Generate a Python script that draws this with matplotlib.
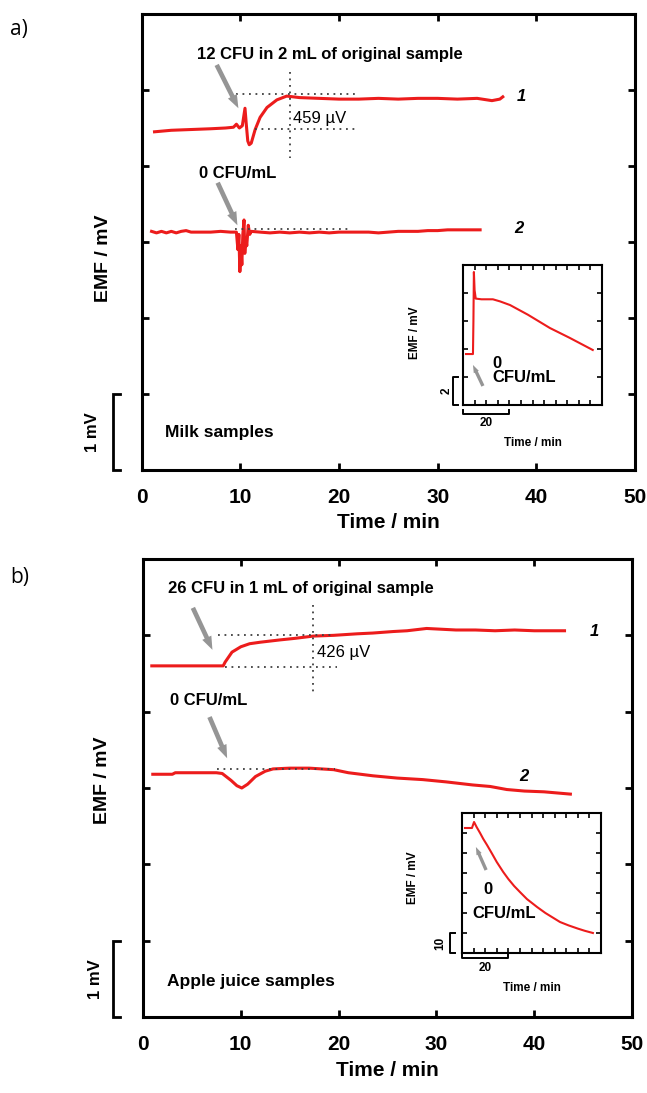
import matplotlib
matplotlib.use('Agg')
import matplotlib.pyplot as plt
from matplotlib.transforms import blended_transform_factory as btf

plt.rcParams['font.family'] = ['Liberation Sans', 'DejaVu Sans']

RED = '#ec1c1c'
GREY = '#959595'
DOT = '#404040'

# ---------------- data (time / min, EMF / mV offset) ----------------
xticks_main = [0, 10, 20, 30, 40, 50]
xticklabels_main = ['0', '10', '20', '30', '40', '50']

# panel a, trace 1 (12 CFU in 2 mL)
a1_t = [1.3, 3, 5, 7, 8.5, 9.3, 9.6, 9.9, 10.2, 10.47, 10.6, 10.75, 10.9, 11.1, 11.5, 12.0,
        12.7, 13.7, 14.7, 16, 18, 20, 22, 24, 26, 28, 30, 32, 34, 35.5, 36.3, 36.6]
a1_v = [4.45, 4.47, 4.48, 4.49, 4.50, 4.51, 4.55, 4.50, 4.53, 4.76, 4.55, 4.33, 4.28, 4.30, 4.48,
        4.64, 4.77, 4.87, 4.92, 4.90, 4.89, 4.88, 4.88, 4.89, 4.88, 4.89, 4.89, 4.88, 4.89, 4.86, 4.88, 4.91]
# panel a, trace 2 (0 CFU/mL)
a2_t = [1.0, 1.5, 2.0, 2.5, 3.0, 3.5, 4.0, 4.5, 5.0, 6.0, 7.0, 8.0, 9.0, 9.6, 9.75, 9.85, 9.95, 10.05,
        10.15, 10.25, 10.37, 10.45, 10.55, 10.65, 10.8, 10.95, 11.1, 12, 13, 14, 15, 16, 17, 18, 19,
        20, 21, 22, 23, 24, 25, 26, 27, 28, 29, 30, 31, 32, 33, 34.3]
a2_v = [3.14, 3.12, 3.14, 3.12, 3.14, 3.12, 3.14, 3.15, 3.13, 3.13, 3.13, 3.14, 3.13, 3.13, 2.90, 3.10,
        2.61, 2.95, 2.70, 3.10, 3.29, 2.85, 3.05, 2.95, 3.22, 3.10, 3.14, 3.13, 3.12, 3.13, 3.12, 3.13,
        3.12, 3.13, 3.12, 3.13, 3.13, 3.13, 3.13, 3.12, 3.13, 3.14, 3.14, 3.14, 3.15, 3.15, 3.16, 3.16,
        3.16, 3.16]
# panel b, trace 1 (26 CFU in 1 mL)
b1_t = [0.9, 8.2, 8.4, 9.1, 10.0, 10.9, 12.0, 14.0, 15.5, 17.4, 19.5, 21.9, 23.5, 25.6, 27.0, 29.0,
        30.5, 32.0, 34.0, 36.0, 38.0, 40.0, 42.0, 43.1]
b1_v = [4.60, 4.60, 4.65, 4.78, 4.85, 4.89, 4.91, 4.94, 4.96, 4.99, 5.00, 5.02, 5.03, 5.05, 5.06, 5.09,
        5.08, 5.07, 5.07, 5.06, 5.07, 5.06, 5.06, 5.06]
# panel b, trace 2 (0 CFU/mL)
b2_t = [1.0, 3.0, 3.3, 7.5, 8.1, 9.0, 9.6, 10.1, 10.7, 11.5, 12.5, 13.3, 15.0, 17.0, 19.5, 21.0,
        23.5, 26.0, 28.6, 31.0, 33.7, 35.5, 37.2, 39.0, 41.0, 43.7]
b2_v = [3.18, 3.18, 3.20, 3.20, 3.19, 3.10, 3.03, 3.00, 3.05, 3.15, 3.22, 3.25, 3.26, 3.26, 3.24, 3.20,
        3.16, 3.13, 3.11, 3.08, 3.04, 3.02, 2.98, 2.96, 2.95, 2.92]

# insets (time / min, EMF / mV)
ia_t = [1.3, 4.3, 4.5, 4.7, 5.0, 5.5, 8.0, 12.9, 16.0, 20.3, 28.0, 37.5, 46.0, 56.0]
ia_v = [3.64, 3.64, 6.0, 9.5, 8.2, 7.6, 7.55, 7.55, 7.4, 7.14, 6.45, 5.5, 4.8, 3.93]
ib_t = [1.3, 4.3, 5.2, 6.3, 7.8, 9.2, 10.8, 12.8, 15.0, 17.8, 20.0, 22.5, 25.0, 28.0, 32.4,
        36.0, 42.3, 46.0, 50.0, 53.0, 56.5]
ib_v = [62.5, 62.5, 65.5, 63.0, 60.0, 57.0, 54.0, 50.0, 45.5, 40.5, 37.0, 33.5, 30.5, 27.0, 23.0,
        20.0, 15.5, 13.8, 12.2, 11.1, 10.0]

# ---------------- figure ----------------
fig = plt.figure(figsize=(6.47, 10.93), dpi=100)
W, H = 647.0, 1093.0


def px_axes(l, t, r, b):
    return fig.add_axes([l / W, 1 - b / H, (r - l) / W, (b - t) / H])


axa = px_axes(141.7, 14, 635, 470)
axb = px_axes(143, 559, 632, 1017)


def style_main(ax):
    ax.set_xlim(0, 50)
    ax.set_ylim(0, 6)
    ax.set_xticks(xticks_main)
    ax.set_xticklabels(xticklabels_main, fontsize=15, fontweight='bold')
    ax.set_yticks([1, 2, 3, 4, 5])
    ax.set_yticklabels([])
    ax.tick_params(direction='in', length=5, width=2, top=True, right=True, pad=13)
    for s in ax.spines.values():
        s.set_linewidth(2.2)
    ax.text(0.5, -0.116, 'Time / min', transform=ax.transAxes, ha='center', va='center',
            fontsize=15, fontweight='bold')


def scale_bar(ax, xb, xs, xt, ylab):
    tr = btf(ax.transAxes, ax.transData)
    ax.plot([xs, xb, xb, xs], [0, 0, 1, 1], color='black', lw=2.0, transform=tr, clip_on=False,
            solid_joinstyle='miter')
    ax.text(xt, 0.5, '1 mV', transform=tr, rotation=90, ha='center', va='center',
            fontsize=12, fontweight='bold')


def arrow(ax, tail, head, ms=12, hw=0.6, hl=0.8, tw=0.28):
    ax.annotate('', xy=head, xytext=tail,
                arrowprops=dict(arrowstyle='simple,head_length=%g,head_width=%g,tail_width=%g' % (hl, hw, tw),
                                color=GREY, mutation_scale=ms, shrinkA=0, shrinkB=0, lw=0))


def dotted(ax, xs, ys):
    ax.plot(xs, ys, color=DOT, lw=1.3, linestyle=(0, (1, 2.6)))


# ---- panel a ----
style_main(axa)
axa.plot(a1_t, a1_v, color=RED, lw=2.2)
axa.plot(a2_t, a2_v, color=RED, lw=2.2)
dotted(axa, [9.6, 21.6], [4.95, 4.95])
dotted(axa, [11.5, 21.6], [4.49, 4.49])
dotted(axa, [15.0, 15.0], [5.24, 4.10])
dotted(axa, [9.5, 21.0], [3.17, 3.17])
axa.text(15.3, 4.63, '459 µV', fontsize=12, ha='left', va='center')
axa.text(5.6, 5.47, '12 CFU in 2 mL of original sample', fontsize=12, fontweight='bold',
         ha='left', va='center')
arrow(axa, (7.6, 5.33), (9.8, 4.76))
axa.text(38.0, 4.91, '1', fontsize=12, fontweight='bold', style='italic', ha='left', va='center')
axa.text(5.8, 3.90, '0 CFU/mL', fontsize=12, fontweight='bold', ha='left', va='center')
arrow(axa, (7.7, 3.78), (9.7, 3.22))
axa.text(37.8, 3.18, '2', fontsize=12, fontweight='bold', style='italic', ha='left', va='center')
axa.text(2.4, 0.49, 'Milk samples', fontsize=12.5, fontweight='bold', ha='left', va='center')
axa.text(-0.078, 0.465, 'EMF / mV', transform=axa.transAxes, rotation=90, ha='center',
         va='center', fontsize=14, fontweight='bold')
scale_bar(axa, -0.058, -0.045, -0.099, '1 mV')

# ---- panel b ----
style_main(axb)
axb.plot(b1_t, b1_v, color=RED, lw=2.2)
axb.plot(b2_t, b2_v, color=RED, lw=2.2)
dotted(axb, [7.7, 19.3], [5.01, 5.01])
dotted(axb, [8.4, 19.8], [4.59, 4.59])
dotted(axb, [17.4, 17.4], [5.40, 4.25])
dotted(axb, [7.6, 19.6], [3.25, 3.25])
axb.text(17.8, 4.77, '426 µV', fontsize=12, ha='left', va='center')
axb.text(2.6, 5.62, '26 CFU in 1 mL of original sample', fontsize=12, fontweight='bold',
         ha='left', va='center')
arrow(axb, (5.1, 5.36), (7.1, 4.81))
axb.text(45.7, 5.05, '1', fontsize=12, fontweight='bold', style='italic', ha='left', va='center')
axb.text(2.8, 4.15, '0 CFU/mL', fontsize=12, fontweight='bold', ha='left', va='center')
arrow(axb, (6.8, 3.93), (8.6, 3.39))
axb.text(38.5, 3.15, '2', fontsize=12, fontweight='bold', style='italic', ha='left', va='center')
axb.text(2.5, 0.46, 'Apple juice samples', fontsize=12.5, fontweight='bold', ha='left', va='center')
axb.text(-0.082, 0.517, 'EMF / mV', transform=axb.transAxes, rotation=90, ha='center',
         va='center', fontsize=14, fontweight='bold')
scale_bar(axb, -0.061, -0.048, -0.098, '1 mV')

# ---- insets ----
insa = px_axes(463, 265, 602, 405)
insb = px_axes(462, 813, 601, 953)


def style_inset(ax, ymax, ystep, ybar, ylabtxt, ylab_x, ybar_x, ytxt_x, xlab_y, x20_y, x20_txt_y, emf_y):
    ax.set_xlim(0, 60)
    ax.set_ylim(0, ymax)
    ax.set_xticks(range(0, 61, 5))
    ax.set_yticks(range(0, ymax + 1, ystep))
    ax.set_xticklabels([])
    ax.set_yticklabels([])
    ax.tick_params(direction='in', length=3.5, width=1.2, top=True, right=True)
    for s in ax.spines.values():
        s.set_linewidth(1.5)
    # vertical scale bar
    tr = btf(ax.transAxes, ax.transData)
    ax.plot([ybar_x + 0.035, ybar_x, ybar_x, ybar_x + 0.035], [0, 0, ybar, ybar], color='black',
            lw=1.4, transform=tr, clip_on=False)
    ax.text(ytxt_x, ybar / 2, ylabtxt, transform=tr, rotation=90, ha='center', va='center',
            fontsize=8.5, fontweight='bold')
    # horizontal scale bar
    tr2 = btf(ax.transData, ax.transAxes)
    ax.plot([0, 0, 20, 20], [x20_y + 0.03, x20_y, x20_y, x20_y + 0.03], color='black', lw=1.4,
            transform=tr2, clip_on=False)
    ax.text(10, x20_txt_y, '20', transform=tr2, ha='center', va='center', fontsize=8.5,
            fontweight='bold')
    ax.text(0.5, xlab_y, 'Time / min', transform=ax.transAxes, ha='center', va='center',
            fontsize=8.5, fontweight='bold')
    ax.text(ylab_x, emf_y, 'EMF / mV', transform=ax.transAxes, rotation=90, ha='center',
            va='center', fontsize=8.5, fontweight='bold')


style_inset(insa, 10, 2, 2, '2', -0.345, -0.072, -0.115, -0.27, -0.064, -0.13, 0.52)
insa.plot(ia_t, ia_v, color=RED, lw=1.5)
insa.text(12.5, 3.0, '0', fontsize=12, fontweight='bold', ha='left', va='center')
insa.text(12.5, 1.93, 'CFU/mL', fontsize=12, fontweight='bold', ha='left', va='center')
arrow(insa, (8.6, 1.36), (4.3, 2.86), ms=8, hw=0.5, hl=0.7, tw=0.3)

style_inset(insb, 70, 10, 10, '10', -0.35, -0.086, -0.158, -0.25, -0.036, -0.107, 0.535)
insb.plot(ib_t, ib_v, color=RED, lw=1.5)
insb.text(9.1, 31.5, '0', fontsize=12, fontweight='bold', ha='left', va='center')
insb.text(4.3, 20.0, 'CFU/mL', fontsize=12, fontweight='bold', ha='left', va='center')
arrow(insb, (10.4, 41.5), (6.0, 53.0), ms=8, hw=0.5, hl=0.7, tw=0.3)

# panel letters
fig.text(10 / W, 1 - 30 / H, 'a)', fontsize=15, family=['Open Sans', 'DejaVu Sans'],
         ha='left', va='center')
fig.text(10 / W, 1 - 578 / H, 'b)', fontsize=15, family=['Open Sans', 'DejaVu Sans'],
         ha='left', va='center')

fig.savefig('out.png', dpi=100)
